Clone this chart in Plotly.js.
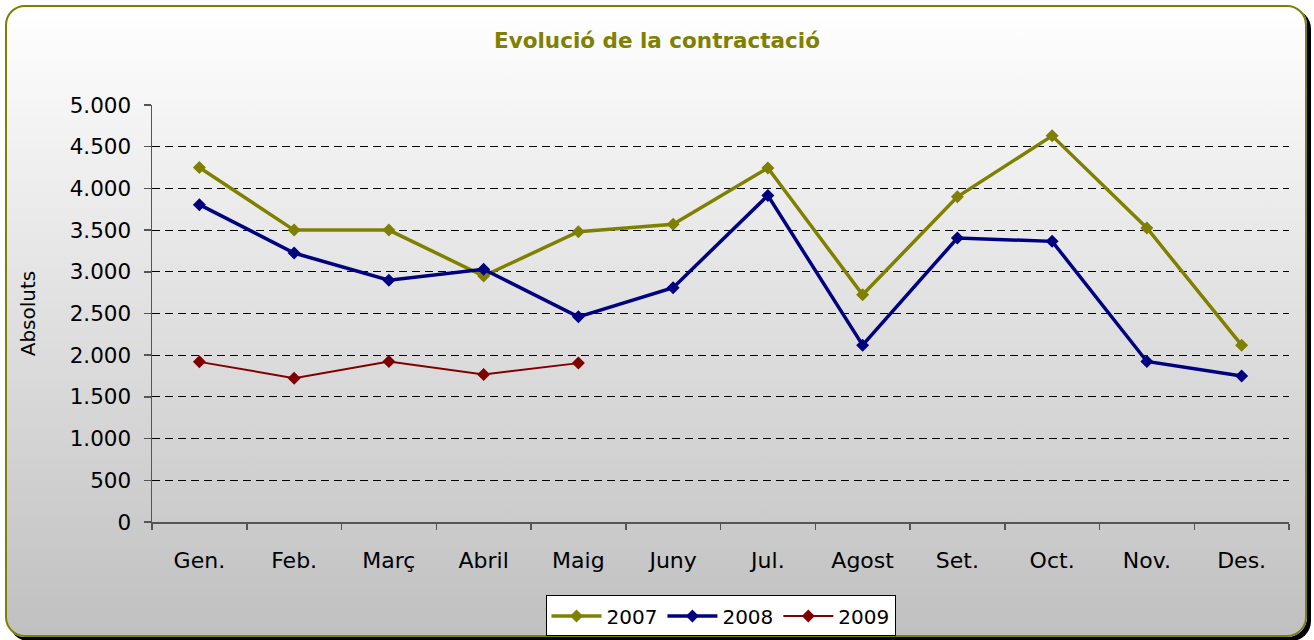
<!DOCTYPE html>
<html><head><meta charset="utf-8">
<script src="https://cdn.plot.ly/plotly-3.0.1.min.js"></script>
<style>
html,body{margin:0;padding:0;background:#fff;width:1314px;height:640px;overflow:hidden}
#frame{position:absolute;left:5px;top:5px;width:1298px;height:628px;border:2px solid #808000;border-radius:20px;background:linear-gradient(#ffffff,#c0c0c0);box-shadow:4px 4px 0 #000}
#chart{position:absolute;left:0;top:0;width:1314px;height:640px}
</style></head><body>
<div id="frame"></div><div id="chart"></div>
<script>
const months = ["Gen.", "Feb.", "Març", "Abril", "Maig", "Juny", "Jul.", "Agost", "Set.", "Oct.", "Nov.", "Des."];
const v2007 = [4250, 3500, 3500, 2950, 3480, 3570, 4245, 2725, 3900, 4630, 3525, 2120];
const v2008 = [3805, 3225, 2900, 3030, 2460, 2810, 3915, 2120, 3405, 3365, 1925, 1750];
const months2009 = ["Gen.", "Feb.", "Març", "Abril", "Maig"];
const v2009 = [1920, 1725, 1925, 1770, 1905];
const yTicks = [0, 500, 1000, 1500, 2000, 2500, 3000, 3500, 4000, 4500, 5000];

const FONT = "DejaVu Sans, Verdana, sans-serif";
const traces = [
  {x: months, y: v2007, name: "2007", type: "scatter", mode: "lines+markers",
   line: {color: "#808000", width: 3.5}, marker: {symbol: "diamond", size: 10, color: "#808000"}},
  {x: months, y: v2008, name: "2008", type: "scatter", mode: "lines+markers",
   line: {color: "#000080", width: 3.5}, marker: {symbol: "diamond", size: 10, color: "#000080"}},
  {x: months2009, y: v2009, name: "2009", type: "scatter", mode: "lines+markers",
   line: {color: "#800000", width: 2}, marker: {symbol: "diamond", size: 10, color: "#800000"}}
];
const layout = {
  width: 1314, height: 640,
  margin: {l: 152, r: 25, t: 105, b: 118, autoexpand: false},
  paper_bgcolor: "rgba(0,0,0,0)", plot_bgcolor: "rgba(0,0,0,0)",
  separators: ",.",
  font: {family: FONT, color: "#000"},
  title: {text: "<b>Evolució de la contractació</b>", font: {family: FONT, size: 21.5, color: "#808000"},
          xref: "container", x: 0.5, xanchor: "center", yref: "container", y: 1 - 40/640, yanchor: "middle"},
  xaxis: {type: "category", categoryorder: "array", categoryarray: months, range: [-0.5, 11.5],
          tickson: "boundaries", ticks: "outside", ticklen: 6, tickcolor: "#555", tickwidth: 1.5,
          showline: true, linecolor: "#555", linewidth: 1.5, showgrid: false, zeroline: false,
          tickfont: {size: 22, family: FONT, color: "#000"}, ticklabelstandoff: 18},
  yaxis: {range: [0, 5000], tickvals: yTicks, tickformat: ",d", ticks: "outside", ticklen: 7,
          tickcolor: "#555", tickwidth: 1.5, showline: true, linecolor: "#555", linewidth: 1.5,
          showgrid: true, gridcolor: "#000", gridwidth: 1, griddash: "8px,5px", zeroline: false,
          tickfont: {size: 21.5, family: FONT, color: "#000"}, ticklabelstandoff: 8,
          title: {text: "Absoluts", font: {size: 20, family: FONT, color: "#000"}, standoff: 28}},
  showlegend: true,
  legend: {orientation: "h", x: 0.5, xanchor: "center", y: -0.2254, yanchor: "middle",
           bgcolor: "#fff", bordercolor: "#000", borderwidth: 1, font: {size: 20, family: FONT, color: "#000"},
           itemwidth: 50, traceorder: "normal"}
};
Plotly.newPlot("chart", traces, layout, {staticPlot: true, displayModeBar: false});
</script>
</body></html>
